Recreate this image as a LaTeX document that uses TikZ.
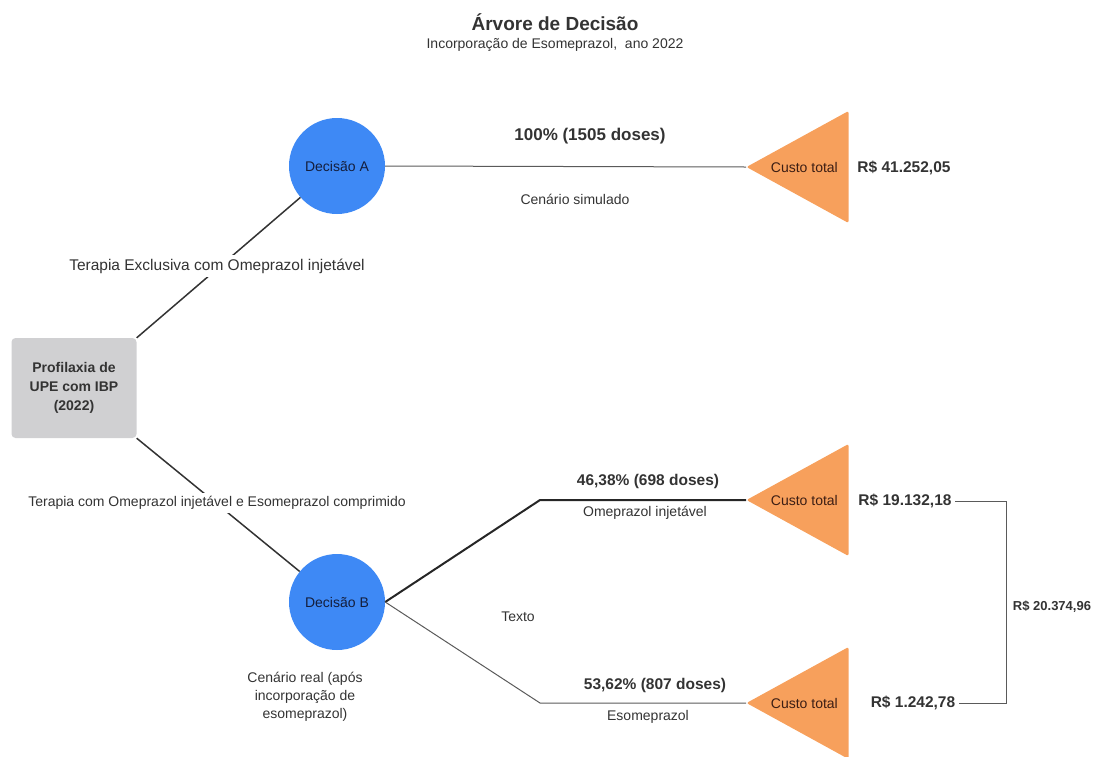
\documentclass[tikz,border=0pt]{standalone}
\usepackage{fontspec}
\setmainfont{Liberation Sans}
\usepackage{tikz}
\usetikzlibrary{shapes.geometric,positioning,calc}
\definecolor{boxgray}{RGB}{208,208,210}
\definecolor{decblue}{RGB}{62,137,245}
\definecolor{costorange}{RGB}{247,160,92}
\definecolor{txtgray}{RGB}{51,51,51}
\definecolor{linegray}{RGB}{90,90,90}
\tikzset{plain/.style={text=txtgray, font=\fontsize{14}{18}\selectfont}}
\tikzset{value/.style={text=txtgray, font=\fontsize{15.5}{19}\selectfont\bfseries}}
\tikzset{root/.style={fill=boxgray, rounded corners=4pt, minimum width=125pt, minimum height=100pt, align=center, text=txtgray, font=\fontsize{14}{19}\selectfont\bfseries}}
\tikzset{decision/.style={circle, fill=decblue, minimum size=96pt, inner sep=0pt, text={rgb,255:red,20;green,30;blue,60}, font=\fontsize{14}{18}\selectfont}}
\tikzset{cost/.style={isosceles triangle, shape border rotate=180, isosceles triangle stretches, minimum height=102pt, minimum width=112pt, inner sep=0pt, fill=costorange, rounded corners=2pt, label={[xshift=-11pt, text={rgb,255:red,60;green,30;blue,20}, font=\fontsize{14}{18}\selectfont]center:Custo total}}}
\tikzset{branch/.style={draw=linegray, line width=1pt}}

\begin{document}
\begin{tikzpicture}[x=1pt, y=-1pt]
\useasboundingbox (0,0) rectangle (1095,756);
\node[text=txtgray, font=\fontsize{19}{23}\selectfont\bfseries] (title) at (555,22) {Árvore de Decisão};
\node[plain] (subtitle) at (555,45) {Incorporação de Esomeprazol,\ \ ano 2022};

\node[root] (upe) at (74,388) {Profilaxia de\\UPE com IBP\\(2022)};
\node[decision] (decA) at (337,166) {Decisão A};
\node[decision] (decB) at (337,602) {Decisão B};

\node[cost, anchor=apex] (costA) at (746,167) {};
\node[cost, anchor=apex] (costB1) at (746,500) {};
\node[cost, anchor=apex] (costB2) at (746,703) {};

\coordinate (kneeB1) at (540,500);
\coordinate (kneeB2) at (540,703);
\coordinate (join) at (1006,600);

\draw[black!80, line width=1.5pt] (upe.north east) -- (decA);
\draw[black!80, line width=1.5pt] (upe.south east) -- (decB);
\draw[branch] (decA.east) -- (costA.apex);
\draw[black!85, line width=2pt] (decB.east) -- (kneeB1) -- (costB1.apex);
\draw[branch] (decB.east) -- (kneeB2) -- (costB2.apex);

\node[plain, fill=white, font=\fontsize{15.5}{19}\selectfont] (termA) at (217,266) {Terapia Exclusiva com Omeprazol injetável};
\node[plain, fill=white] (termB) at (217,503) {Terapia com Omeprazol injetável e Esomeprazol comprimido};
\node[plain, align=center] (real) at (305,697) {Cenário real (após\\incorporação de\\esomeprazol)};

\node[value, font=\fontsize{17}{20}\selectfont\bfseries] (pA) at (590,136) {100\% (1505 doses)};
\node[plain] (sA) at (575,199) {Cenário simulado};
\node[value] (pB1) at (648,481) {46,38\% (698 doses)};
\node[plain] (sB1) at (645,513) {Omeprazol injetável};
\node[value] (pB2) at (655,685) {53,62\% (807 doses)};
\node[plain] (sB2) at (648,717) {Esomeprazol};
\node[plain] (texto) at (518,617) {Texto};

\node[value] (valA) at (904,168) {R\$ 41.252,05};
\node[value] (valB1) at (905,501) {R\$ 19.132,18};
\node[value] (valB2) at (913,703) {R\$ 1.242,78};
\node[value, font=\fontsize{13}{16}\selectfont\bfseries] (total) at (1052,607) {R\$ 20.374,96};

\draw[branch] (valB1.east) -| (join) |- (valB2.east);
\end{tikzpicture}
\end{document}
